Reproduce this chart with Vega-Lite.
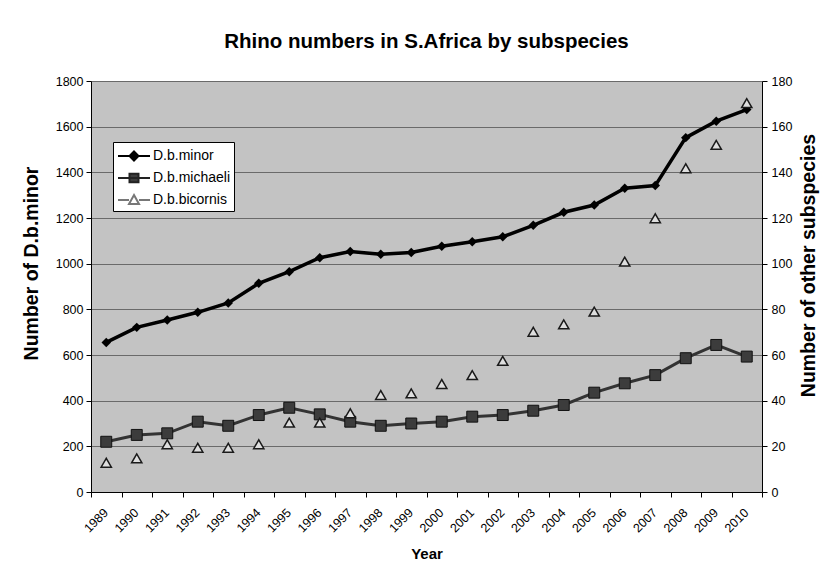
{
  "$schema": "https://vega.github.io/schema/vega-lite/v6.json",
  "width": 671,
  "height": 411,
  "autosize": {"type": "none"},
  "padding": {"left": 91, "top": 81, "right": 73, "bottom": 82},
  "background": "white",
  "title": {"text": "Rhino numbers in S.Africa by subspecies", "fontSize": 20.5, "font": "Liberation Sans", "fontWeight": "bold", "anchor": "middle", "offset": 23, "color": "black"},
  "config": {
    "font": "Liberation Sans",
    "view": {"fill": "#c3c3c3", "stroke": null},
    "axis": {"domainColor": "black", "tickColor": "black", "labelColor": "black", "titleColor": "black", "labelFont": "Liberation Sans", "titleFont": "Liberation Sans"}
  },
  "data": {"values": [
    {"year": "1989", "series": "D.b.minor", "value": 655},
    {"year": "1990", "series": "D.b.minor", "value": 721},
    {"year": "1991", "series": "D.b.minor", "value": 753},
    {"year": "1992", "series": "D.b.minor", "value": 787},
    {"year": "1993", "series": "D.b.minor", "value": 828},
    {"year": "1994", "series": "D.b.minor", "value": 914},
    {"year": "1995", "series": "D.b.minor", "value": 965},
    {"year": "1996", "series": "D.b.minor", "value": 1026},
    {"year": "1997", "series": "D.b.minor", "value": 1053},
    {"year": "1998", "series": "D.b.minor", "value": 1041},
    {"year": "1999", "series": "D.b.minor", "value": 1049},
    {"year": "2000", "series": "D.b.minor", "value": 1076},
    {"year": "2001", "series": "D.b.minor", "value": 1096},
    {"year": "2002", "series": "D.b.minor", "value": 1118},
    {"year": "2003", "series": "D.b.minor", "value": 1168},
    {"year": "2004", "series": "D.b.minor", "value": 1225},
    {"year": "2005", "series": "D.b.minor", "value": 1257},
    {"year": "2006", "series": "D.b.minor", "value": 1330},
    {"year": "2007", "series": "D.b.minor", "value": 1342},
    {"year": "2008", "series": "D.b.minor", "value": 1552},
    {"year": "2009", "series": "D.b.minor", "value": 1624},
    {"year": "2010", "series": "D.b.minor", "value": 1675},
    {"year": "1989", "series": "D.b.michaeli", "value": 22.0},
    {"year": "1990", "series": "D.b.michaeli", "value": 25.0},
    {"year": "1991", "series": "D.b.michaeli", "value": 25.7},
    {"year": "1992", "series": "D.b.michaeli", "value": 30.8},
    {"year": "1993", "series": "D.b.michaeli", "value": 29.0},
    {"year": "1994", "series": "D.b.michaeli", "value": 33.7},
    {"year": "1995", "series": "D.b.michaeli", "value": 36.9},
    {"year": "1996", "series": "D.b.michaeli", "value": 34.0},
    {"year": "1997", "series": "D.b.michaeli", "value": 30.8},
    {"year": "1998", "series": "D.b.michaeli", "value": 29.0},
    {"year": "1999", "series": "D.b.michaeli", "value": 30.0},
    {"year": "2000", "series": "D.b.michaeli", "value": 30.8},
    {"year": "2001", "series": "D.b.michaeli", "value": 33.0},
    {"year": "2002", "series": "D.b.michaeli", "value": 33.7},
    {"year": "2003", "series": "D.b.michaeli", "value": 35.6},
    {"year": "2004", "series": "D.b.michaeli", "value": 38.1},
    {"year": "2005", "series": "D.b.michaeli", "value": 43.5},
    {"year": "2006", "series": "D.b.michaeli", "value": 47.6},
    {"year": "2007", "series": "D.b.michaeli", "value": 51.2},
    {"year": "2008", "series": "D.b.michaeli", "value": 58.6},
    {"year": "2009", "series": "D.b.michaeli", "value": 64.4},
    {"year": "2010", "series": "D.b.michaeli", "value": 59.3},
    {"year": "1989", "series": "D.b.bicornis", "value": 12.8},
    {"year": "1990", "series": "D.b.bicornis", "value": 14.7},
    {"year": "1991", "series": "D.b.bicornis", "value": 20.9},
    {"year": "1992", "series": "D.b.bicornis", "value": 19.4},
    {"year": "1993", "series": "D.b.bicornis", "value": 19.4},
    {"year": "1994", "series": "D.b.bicornis", "value": 20.9},
    {"year": "1995", "series": "D.b.bicornis", "value": 30.4},
    {"year": "1996", "series": "D.b.bicornis", "value": 30.4},
    {"year": "1997", "series": "D.b.bicornis", "value": 34.5},
    {"year": "1998", "series": "D.b.bicornis", "value": 42.5},
    {"year": "1999", "series": "D.b.bicornis", "value": 43.2},
    {"year": "2000", "series": "D.b.bicornis", "value": 47.3},
    {"year": "2001", "series": "D.b.bicornis", "value": 51.2},
    {"year": "2002", "series": "D.b.bicornis", "value": 57.4},
    {"year": "2003", "series": "D.b.bicornis", "value": 70.2},
    {"year": "2004", "series": "D.b.bicornis", "value": 73.4},
    {"year": "2005", "series": "D.b.bicornis", "value": 79.0},
    {"year": "2006", "series": "D.b.bicornis", "value": 100.9},
    {"year": "2007", "series": "D.b.bicornis", "value": 119.9},
    {"year": "2008", "series": "D.b.bicornis", "value": 141.8},
    {"year": "2009", "series": "D.b.bicornis", "value": 152.0},
    {"year": "2010", "series": "D.b.bicornis", "value": 170.3}
  ]},
  "encoding": {
    "x": {
      "field": "year", "type": "ordinal",
      "scale": {"type": "band", "paddingInner": 0, "paddingOuter": 0},
      "axis": {"title": "Year", "labelAngle": -45, "tickBand": "extent", "labelFontSize": 12.5, "tickSize": 5, "labelPadding": 9, "labelOffset": -5, "titleFontSize": 15, "titleFontWeight": "bold", "titlePadding": 12, "grid": false}
    }
  },
  "layer": [
    {
      "transform": [{"filter": "datum.series === 'D.b.minor'"}],
      "encoding": {
        "y": {
          "field": "value", "type": "quantitative",
          "scale": {"domain": [0, 1800]},
          "axis": {"orient": "left", "title": "Number of D.b.minor", "format": "d", "values": [0, 200, 400, 600, 800, 1000, 1200, 1400, 1600, 1800], "grid": true, "gridColor": "#6a6a6a", "gridWidth": 1, "tickSize": 5, "labelFontSize": 12.5, "labelPadding": 3, "titleFontSize": 19.5, "titleFontWeight": "bold", "titlePadding": 14, "titleY": 182}
        }
      },
      "layer": [
        {"mark": {"type": "line", "color": "black", "strokeWidth": 3.5}},
        {"mark": {"type": "point", "shape": "diamond", "filled": true, "color": "black", "size": 90, "opacity": 1}}
      ]
    },
    {
      "transform": [{"filter": "datum.series !== 'D.b.minor'"}],
      "encoding": {
        "y": {
          "field": "value", "type": "quantitative",
          "scale": {"domain": [0, 180]},
          "axis": {"orient": "right", "title": "Number of other subspecies", "titleAngle": 270, "titleBaseline": "top", "titleY": 184, "values": [0, 20, 40, 60, 80, 100, 120, 140, 160, 180], "grid": false, "tickSize": 5, "labelFontSize": 12.5, "labelPadding": 4, "titleFontSize": 19.5, "titleFontWeight": "bold", "titlePadding": 8}
        }
      },
      "layer": [
        {"transform": [{"filter": "datum.series === 'D.b.michaeli'"}], "mark": {"type": "line", "color": "#333333", "strokeWidth": 3}},
        {"transform": [{"filter": "datum.series === 'D.b.michaeli'"}], "mark": {"type": "point", "shape": "square", "filled": true, "fill": "#3c3c3c", "stroke": "#111111", "strokeWidth": 1, "size": 120, "opacity": 1}},
        {"transform": [{"filter": "datum.series === 'D.b.bicornis'"}], "mark": {"type": "point", "shape": "triangle-up", "filled": true, "fill": "#dedede", "stroke": "#1a1a1a", "strokeWidth": 1.5, "size": 105, "opacity": 1}}
      ]
    },
    {
      "mark": {"type": "point", "filled": true, "opacity": 0},
      "encoding": {
        "shape": {
          "field": "series", "type": "nominal",
          "scale": {"domain": ["D.b.minor", "D.b.michaeli", "D.b.bicornis"], "range": ["M-0.9,0H2.3M0.7,-0.45L1.15,0L0.7,0.45L0.25,0Z", "M-0.9,0H2.3M0.25,-0.42H1.15V0.42H0.25Z", "M-0.9,0H0.2M1.2,0H2.3M0.7,-0.5L1.2,0.4H0.2Z"]},
          "legend": {"title": null, "orient": "none", "legendX": 22, "legendY": 61, "symbolSize": 400, "symbolStrokeWidth": 2, "symbolOpacity": 1, "labelFontSize": 14, "labelColor": "black", "labelFont": "Liberation Sans", "labelOffset": 15, "padding": 3, "rowPadding": 2, "columnPadding": 0, "fillColor": "white", "strokeColor": "black"}
        },
        "fill": {
          "field": "series", "type": "nominal",
          "scale": {"domain": ["D.b.minor", "D.b.michaeli", "D.b.bicornis"], "range": ["black", "#3c3c3c", "white"]},
          "legend": {"title": null, "orient": "none", "legendX": 22, "legendY": 61, "symbolSize": 400, "symbolStrokeWidth": 2, "symbolOpacity": 1, "labelFontSize": 14, "labelColor": "black", "labelFont": "Liberation Sans", "labelOffset": 15, "padding": 3, "rowPadding": 2, "columnPadding": 0, "fillColor": "white", "strokeColor": "black"}
        },
        "stroke": {
          "field": "series", "type": "nominal",
          "scale": {"domain": ["D.b.minor", "D.b.michaeli", "D.b.bicornis"], "range": ["black", "#222222", "#777777"]},
          "legend": {"title": null, "orient": "none", "legendX": 22, "legendY": 61, "symbolSize": 400, "symbolStrokeWidth": 2, "symbolOpacity": 1, "labelFontSize": 14, "labelColor": "black", "labelFont": "Liberation Sans", "labelOffset": 15, "padding": 3, "rowPadding": 2, "columnPadding": 0, "fillColor": "white", "strokeColor": "black"}
        }
      }
    }
  ],
  "resolve": {"scale": {"y": "independent"}}
}
